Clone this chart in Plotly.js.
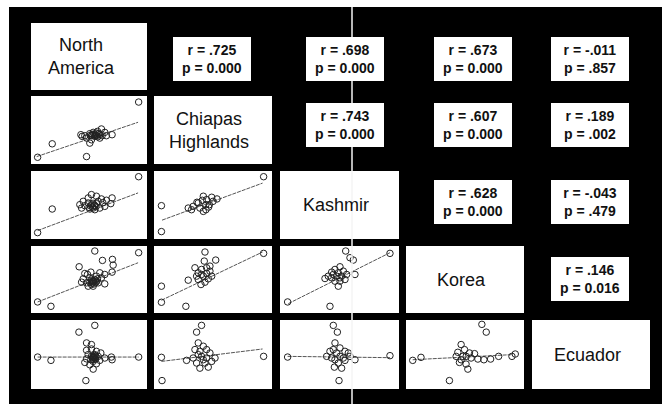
<!DOCTYPE html>
<html>
<head>
<meta charset="utf-8">
<script src="https://cdn.plot.ly/plotly-3.0.1.min.js"></script>
<style>
  html, body { margin: 0; padding: 0; background: #fff; }
  #chart { width: 662px; height: 404px; }
</style>
</head>
<body>
<div id="chart"></div>
<script>
// region names (diagonal)
const regions = ['North<br>America', 'Chiapas<br>Highlands', 'Kashmir', 'Korea', 'Ecuador'];

// upper triangle: [row, col, r, p]
const corr_rows = [1, 1, 1, 1, 2, 2, 2, 3, 3, 4];
const corr_cols = [2, 3, 4, 5, 3, 4, 5, 4, 5, 5];
const r_values = ['.725', '.698', '.673', '-.011', '.743', '.607', '.189', '.628', '-.043', '.146'];
const p_values = ['0.000', '0.000', '0.000', '.857', '0.000', '0.000', '.002', '0.000', '.479', '0.016'];

// lower triangle scatter data (scaled 0-100 per panel)
const chiapas_na_x = [92.8, 5.7, 18.3, 47.9, 43.0, 46.4, 50.7, 53.6, 57.3, 60.7, 63.6, 69.9, 52.1, 50.7, 59.3, 55.0, 65.0, 47.9, 61.3, 44.1, 58.5, 54.4, 52.1, 56.4, 55.5, 57.5, 53.0, 59.0, 56.0, 51.0];
const chiapas_na_y = [91.1, 9.9, 29.7, 10.9, 43.1, 41.6, 44.6, 46.5, 48.0, 51.5, 46.5, 43.1, 35.6, 30.7, 38.1, 40.6, 41.6, 38.1, 41.6, 40.6, 44.6, 43.1, 41.6, 41.6, 42.5, 40.0, 43.5, 43.0, 45.5, 42.0];

const kashmir_na_x = [92.8, 5.7, 18.3, 42.1, 45.0, 49.3, 52.1, 56.4, 60.7, 65.0, 69.9, 68.8, 63.6, 59.3, 55.0, 50.7, 46.4, 52.1, 55.0, 53.6, 56.4, 49.3, 57.9, 43.6, 61.9, 53.0, 54.5, 51.5, 56.0, 53.5, 50.0];
const kashmir_na_y = [91.6, 9.4, 44.1, 50.5, 55.4, 60.4, 65.3, 62.9, 58.9, 57.0, 60.4, 52.0, 48.0, 45.5, 43.1, 44.1, 49.0, 50.5, 49.0, 45.5, 52.0, 53.0, 55.4, 45.5, 53.5, 47.0, 50.0, 48.5, 47.5, 52.5, 46.5];

const kashmir_chiapas_x = [92.9, 6.3, 6.3, 29.0, 33.2, 37.5, 41.8, 44.6, 40.9, 46.9, 44.0, 38.9, 50.0, 53.4, 36.4, 44.0, 46.3, 41.8, 48.9, 31.8];
const kashmir_chiapas_y = [91.6, 10.9, 49.0, 45.5, 48.0, 53.0, 62.9, 57.9, 56.9, 50.5, 43.1, 45.5, 55.4, 58.9, 54.0, 50.5, 47.0, 40.6, 61.4, 43.1];

const korea_na_x = [92.8, 5.7, 17.2, 55.0, 41.5, 61.6, 70.2, 70.8, 69.9, 63.6, 48.7, 45.0, 47.9, 50.7, 52.1, 55.0, 56.4, 57.9, 53.6, 49.3, 60.7, 59.3, 51.6, 46.4, 55.9, 53.6, 52.1, 57.3, 50.7, 43.6, 63.6, 54.0, 55.5, 52.5, 54.5, 56.5, 53.0];
const korea_na_y = [90.0, 16.5, 10.0, 92.5, 69.0, 78.5, 80.0, 71.5, 61.0, 43.5, 57.5, 51.0, 45.0, 52.5, 42.5, 50.0, 55.0, 45.0, 40.0, 40.0, 52.5, 60.0, 61.0, 59.0, 46.0, 47.5, 49.0, 51.0, 46.0, 46.0, 57.5, 46.5, 48.5, 45.0, 43.5, 47.0, 48.0];

const korea_chiapas_x = [92.9, 6.3, 6.3, 27.0, 43.2, 42.6, 52.3, 34.7, 29.0, 37.5, 40.3, 44.6, 47.4, 48.9, 41.8, 37.5, 43.2, 39.8, 46.0, 44.6, 40.3, 36.1, 47.4];
const korea_chiapas_y = [89.0, 40.0, 16.0, 10.0, 91.0, 77.5, 79.0, 67.5, 49.0, 60.0, 65.0, 67.5, 62.5, 55.0, 55.0, 50.0, 46.0, 42.5, 51.0, 59.0, 57.5, 55.0, 70.0];

const korea_kashmir_x = [92.4, 6.4, 42.0, 55.2, 58.8, 61.6, 63.0, 40.6, 43.4, 46.2, 50.4, 49.0, 51.8, 54.6, 50.4, 46.2, 49.0, 43.4, 53.2, 47.6, 44.8, 50.4, 56.0, 37.8];
const korea_kashmir_y = [89.0, 16.5, 10.0, 92.5, 82.5, 79.0, 57.5, 55.0, 61.0, 65.0, 69.0, 60.0, 55.0, 50.0, 47.5, 47.5, 40.0, 52.5, 62.5, 55.0, 57.5, 52.5, 57.5, 51.5];

const ecuador_na_x = [5.7, 17.2, 92.8, 55.0, 41.3, 47.3, 47.9, 52.1, 47.9, 52.1, 56.4, 60.2, 69.3, 69.9, 63.6, 47.9, 46.4, 50.7, 53.6, 56.4, 59.3, 53.6, 55.0, 51.6, 55.6, 49.3, 53.6, 57.9, 52.1, 54.4, 54.5, 55.5, 53.0, 54.0, 56.0, 53.5, 55.0];
const ecuador_na_y = [46.3, 41.5, 46.3, 92.2, 82.4, 12.2, 66.8, 64.4, 56.1, 58.0, 54.6, 52.2, 46.3, 42.4, 44.9, 43.7, 38.5, 35.1, 28.8, 36.6, 41.5, 46.3, 49.8, 42.4, 43.4, 49.8, 40.0, 47.3, 47.3, 44.9, 46.0, 44.0, 45.0, 42.5, 46.5, 47.5, 48.5];

const ecuador_chiapas_x = [6.3, 27.6, 92.9, 40.3, 36.1, 6.8, 37.5, 41.8, 34.7, 38.9, 44.6, 47.4, 51.7, 48.9, 43.2, 38.9, 36.1, 33.2, 40.3, 44.6, 37.5, 46.0, 41.8];
const ecuador_chiapas_y = [45.9, 41.5, 47.3, 92.2, 82.4, 12.2, 66.8, 62.0, 57.1, 54.6, 57.1, 52.2, 44.9, 40.0, 37.6, 30.2, 37.6, 44.9, 47.3, 44.9, 49.8, 31.7, 42.4];

const ecuador_kashmir_x = [6.4, 92.4, 44.8, 48.2, 49.6, 46.2, 42.0, 39.2, 44.8, 50.4, 54.6, 58.8, 63.0, 54.6, 50.4, 46.2, 45.7, 51.8, 49.0, 43.4, 57.4, 47.6, 53.2];
const ecuador_kashmir_y = [46.3, 48.3, 92.2, 82.4, 12.2, 66.8, 54.6, 47.3, 57.1, 59.5, 54.6, 47.3, 42.4, 41.5, 47.3, 42.4, 31.7, 30.2, 37.6, 44.9, 52.2, 52.2, 44.9];

const ecuador_korea_x = [5.7, 12.7, 89.8, 78.5, 92.6, 64.3, 68.0, 36.8, 46.7, 49.6, 43.9, 42.5, 46.7, 50.9, 52.4, 55.2, 60.9, 66.0, 58.1, 53.8, 48.2, 51.0, 45.3, 71.7];
const ecuador_korea_y = [41.5, 45.9, 47.3, 47.3, 50.7, 93.7, 82.4, 12.2, 64.4, 57.1, 53.2, 47.3, 42.4, 36.1, 28.8, 44.9, 43.4, 42.4, 51.2, 52.2, 47.3, 47.3, 38.5, 43.4];

// fitted lines, [start, end]
const fit_x = [[4.9, 92.3], [5.7, 92.3], [6.8, 92.0], [5.7, 92.3], [6.3, 92.0], [7.0, 92.4], [5.7, 92.8], [6.3, 92.0], [6.4, 92.4], [5.7, 89.8]];
const fit_y = [[10.9, 61.4], [12.4, 67.8], [27.7, 82.2], [16.5, 75.0], [19.0, 91.0], [14.0, 90.0], [46.3, 46.3], [40.0, 58.0], [47.3, 45.4], [42.4, 49.8]];

const panels = [
  [2, 1, chiapas_na_x, chiapas_na_y],
  [3, 1, kashmir_na_x, kashmir_na_y],
  [3, 2, kashmir_chiapas_x, kashmir_chiapas_y],
  [4, 1, korea_na_x, korea_na_y],
  [4, 2, korea_chiapas_x, korea_chiapas_y],
  [4, 3, korea_kashmir_x, korea_kashmir_y],
  [5, 1, ecuador_na_x, ecuador_na_y],
  [5, 2, ecuador_chiapas_x, ecuador_chiapas_y],
  [5, 3, ecuador_kashmir_x, ecuador_kashmir_y],
  [5, 4, ecuador_korea_x, ecuador_korea_y]
];

// cell geometry in pixels
const W = 662, H = 404;
const col_left = [31, 154, 280, 406, 532];
const col_right = [147, 272, 399, 524, 650];
const row_top = [23, 96, 171, 246, 320];
const row_bottom = [90, 164, 239, 313, 389];
const box_dx = [0, -1, 5, 8, -1];
const box_dy = [2, -5, -3, -1, 0];

const px = v => v / W;
const py = v => 1 - v / H;

const traces = [];
const layout = {
  width: W,
  height: H,
  margin: { l: 0, r: 0, t: 0, b: 0 },
  paper_bgcolor: '#000',
  plot_bgcolor: '#fff',
  showlegend: false,
  shapes: [],
  annotations: []
};

panels.forEach((pn, i) => {
  const k = i + 1;
  const sfx = k === 1 ? '' : String(k);
  const row = pn[0] - 1, col = pn[1] - 1;
  const ax = { range: [0, 100], visible: false, fixedrange: true };
  layout['xaxis' + sfx] = Object.assign({ domain: [px(col_left[col]), px(col_right[col])], anchor: 'y' + sfx }, ax);
  layout['yaxis' + sfx] = Object.assign({ domain: [py(row_bottom[row]), py(row_top[row])], anchor: 'x' + sfx }, ax);

  traces.push({
    type: 'scatter', mode: 'lines',
    x: fit_x[i], y: fit_y[i],
    xaxis: 'x' + sfx, yaxis: 'y' + sfx,
    line: { color: '#555', width: 1, dash: '4px,1px' },
    hoverinfo: 'skip'
  });
  traces.push({
    type: 'scatter', mode: 'markers',
    x: pn[2], y: pn[3],
    xaxis: 'x' + sfx, yaxis: 'y' + sfx,
    marker: { symbol: 'circle-open', size: 6.5, color: '#222', line: { width: 1 } },
    cliponaxis: false
  });
});

// diagonal name cells
regions.forEach((name, i) => {
  layout.shapes.push({
    type: 'rect', xref: 'paper', yref: 'paper', layer: 'below',
    x0: px(col_left[i]), x1: px(col_right[i]),
    y0: py(row_bottom[i]), y1: py(row_top[i]),
    fillcolor: '#fff', line: { width: 0 }
  });
  layout.annotations.push({
    xref: 'paper', yref: 'paper',
    x: px((col_left[i] + col_right[i]) / 2), y: py((row_top[i] + row_bottom[i]) / 2),
    xanchor: 'center', yanchor: 'middle', xshift: i === 0 ? -8 : -4,
    text: name, showarrow: false,
    font: { family: 'Liberation Sans, Arial, sans-serif', size: 18, color: '#111' }
  });
});

// correlation boxes
r_values.forEach((r, i) => {
  const row = corr_rows[i] - 1, col = corr_cols[i] - 1;
  layout.annotations.push({
    xref: 'paper', yref: 'paper',
    x: px((col_left[col] + col_right[col]) / 2 + box_dx[col]),
    y: py((row_top[row] + row_bottom[row]) / 2 + box_dy[row]),
    xanchor: 'center', yanchor: 'middle',
    text: '<b>r = ' + r + '<br>p = ' + p_values[i] + '</b>',
    showarrow: false, align: 'center',
    width: 78, height: 44, borderpad: 0, borderwidth: 0,
    bgcolor: '#fff',
    font: { family: 'Liberation Sans, Arial, sans-serif', size: 14, color: '#111' }
  });
});

// white margins at the top and left, and the scan line
layout.shapes.push(
  { type: 'rect', xref: 'paper', yref: 'paper', x0: 0, x1: 1, y0: py(7), y1: 1, fillcolor: '#fff', line: { width: 0 } },
  { type: 'rect', xref: 'paper', yref: 'paper', x0: 0, x1: px(9), y0: 0, y1: 1, fillcolor: '#fff', line: { width: 0 } },
  { type: 'line', xref: 'paper', yref: 'paper', x0: px(352), x1: px(352), y0: 0, y1: py(7), line: { color: '#f4f4f4', width: 1.5 } }
);

Plotly.newPlot('chart', traces, layout, { staticPlot: true });
</script>
</body>
</html>
